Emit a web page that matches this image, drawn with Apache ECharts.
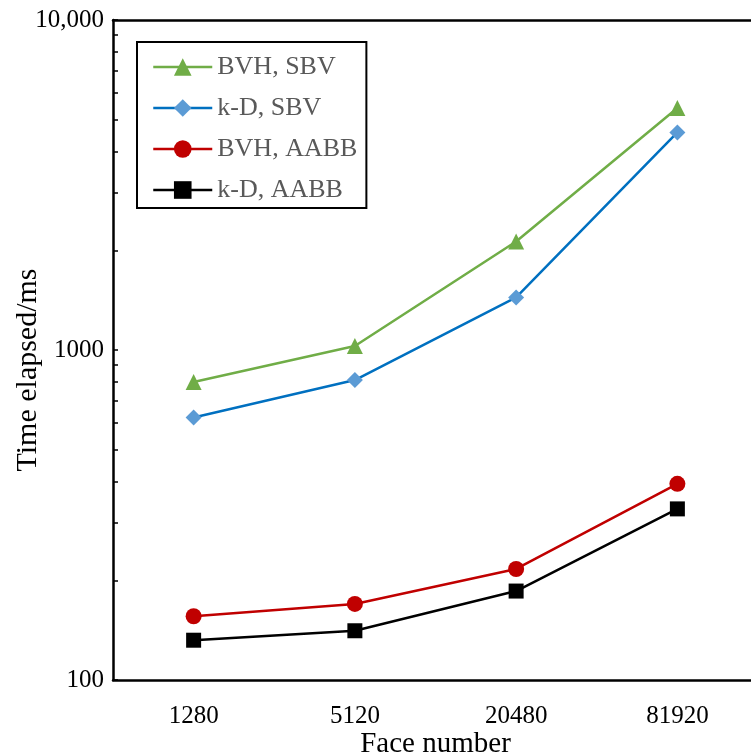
<!DOCTYPE html>
<html lang="en">
<head>
    <meta charset="UTF-8">
    <title>Time elapsed vs face number</title>
    <style type="text/css">
        *{
            margin: 0;
            padding: 0;
        }
        #main{
            width: 751px;
            height: 756px;
            position: absolute;
            background: #fff;
        }
    </style>
</head>
<body>
    <div id="main"></div>
    <script src="https://cdn.jsdelivr.net/npm/echarts@6/dist/echarts.min.js"></script>
    <script type="text/javascript">
        var myChart = echarts.init(document.getElementById('main'));

        // data
        var faces = ['1280', '5120', '20480', '81920'];
        var bvhSbv = [800, 1028, 2132, 5412];
        var kdSbv = [624, 811, 1443, 4562];
        var bvhAabb = [156, 170, 217, 393];
        var kdAabb = [132, 141, 186, 330];
        var yTicks = [100, 200, 300, 400, 500, 600, 700, 800, 900,
            1000, 2000, 3000, 4000, 5000, 6000, 7000, 8000, 9000, 10000];

        var serif = "'Times New Roman', 'Liberation Serif', serif";

        function lineSeries(name, data, lineColor, fillColor, symbol, size) {
            return {
                name: name,
                type: 'line',
                data: data,
                symbol: symbol,
                symbolSize: size,
                lineStyle: {width: 2.5, color: lineColor},
                itemStyle: {color: fillColor},
                emphasis: {disabled: true}
            };
        }

        var option = {
            animation: false,
            backgroundColor: '#fff',
            grid: {
                left: 113,
                right: -7,
                top: 20,
                bottom: 76,
                outerBoundsMode: 'none',
                containLabel: false
            },
            legend: {
                orient: 'vertical',
                left: 137,
                top: 42,
                padding: [12, 9, 5, 15],
                borderColor: '#000',
                borderWidth: 2,
                itemWidth: 59,
                itemHeight: 22,
                itemGap: 15,
                lineStyle: {width: 2.5},
                textStyle: {
                    fontFamily: serif,
                    fontSize: 26,
                    color: '#595959'
                },
                data: ['BVH, SBV', 'k-D, SBV', 'BVH, AABB', 'k-D, AABB']
            },
            xAxis: [{
                type: 'category',
                data: faces,
                name: 'Face number',
                nameLocation: 'middle',
                nameGap: 50,
                nameMoveOverlap: false,
                nameTextStyle: {fontFamily: serif, fontSize: 29, color: '#000'},
                axisLine: {lineStyle: {color: '#000', width: 2.5}},
                axisTick: {inside: true, alignWithLabel: true, length: 6, lineStyle: {color: '#000', width: 1.5}},
                axisLabel: {fontFamily: serif, fontSize: 25, color: '#000', margin: 24}
            }, {
                type: 'category',
                data: faces,
                position: 'top',
                axisLine: {lineStyle: {color: '#000', width: 2.5}},
                axisTick: {show: false},
                axisLabel: {show: false}
            }],
            yAxis: {
                type: 'log',
                logBase: 10,
                min: 100,
                max: 10000,
                name: 'Time elapsed/ms',
                nameLocation: 'middle',
                nameGap: 70,
                nameMoveOverlap: false,
                nameTextStyle: {fontFamily: serif, fontSize: 30, color: '#000', padding: [0, 40, 0, 0]},
                splitLine: {show: false},
                axisLine: {show: true, lineStyle: {color: '#000', width: 2.5}},
                axisTick: {show: true, inside: true, length: 5, customValues: yTicks, lineStyle: {color: '#000', width: 1.5}},
                axisLabel: {
                    fontFamily: serif,
                    fontSize: 25,
                    color: '#000',
                    margin: 9,
                    formatter: function (value) {
                        return value >= 10000 ? '10,000' : String(value);
                    }
                }
            },
            series: [
                lineSeries('BVH, SBV', bvhSbv, '#70AD47', '#70AD47', 'triangle', 16),
                lineSeries('k-D, SBV', kdSbv, '#0070C0', '#5B9BD5', 'diamond', 16),
                lineSeries('BVH, AABB', bvhAabb, '#C00000', '#C00000', 'circle', 16),
                lineSeries('k-D, AABB', kdAabb, '#000000', '#000000', 'rect', 15)
            ]
        };

        myChart.setOption(option);
    </script>
</body>
</html>
